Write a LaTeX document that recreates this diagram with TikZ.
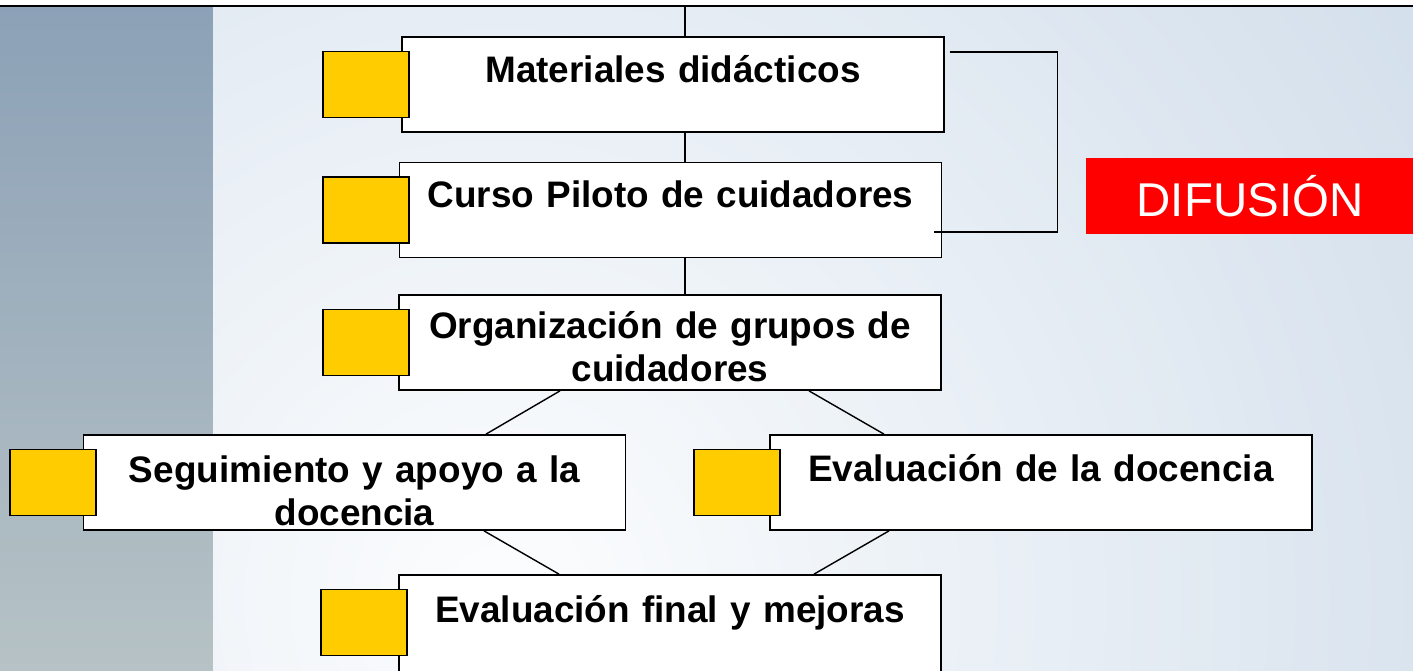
\documentclass[tikz,border=0pt]{standalone}
\usepackage{fontspec}
\setmainfont{Liberation Sans}
\usetikzlibrary{positioning}
\definecolor{tagyellow}{HTML}{FFCC00}
\definecolor{stripblue}{HTML}{8CA1B7}
\definecolor{stripgray}{HTML}{B6C2C5}
\definecolor{bgblue}{HTML}{AEC4DB}
\definecolor{bglight}{HTML}{FCFDFE}
\definecolor{difred}{HTML}{FF0000}
\tikzset{
    task-box/.style = {draw, fill=white, line width=1pt, rectangle, minimum width=10.84cm, minimum height=1.9cm, inner sep=0pt},
    task-text/.style = {anchor=base, text width=10.4cm, align=center, inner sep=0pt, font=\fontsize{21}{24.4}\selectfont\bfseries},
    task-tag/.style = {draw, fill=tagyellow, line width=1pt, rectangle, minimum width=1.72cm, minimum height=1.32cm, inner sep=0pt},
    link/.style = {line width=0.8pt},
}

\begin{document}
\begin{tikzpicture}[x=0.02cm, y=-0.02cm]
\useasboundingbox (0,0) rectangle (1413,670);
\clip (0,0) rectangle (1413,670);
% background
\fill[white] (0,0) rectangle (1413,670);
\shade[top color=stripblue, bottom color=stripgray] (0,6) rectangle (213,670);
\begin{scope}
    \clip (213,6) rectangle (1413,670);
    \shade[inner color=bglight, outer color=bgblue] (-1600,-1500) rectangle (2600,2700);
\end{scope}
\draw[line width=1.2pt] (0,6) -- (1413,6);

% boxes
\node[task-box] (mat) at (673,84.5) {};
\node[task-box] (cur) at (670.5,210) {};
\node[task-box] (org) at (670,342.5) {};
\node[task-box] (seg) at (354.5,482.5) {};
\node[task-box] (evd) at (1041,482.5) {};
\node[task-box, minimum height=2cm] (fin) at (670,625) {};

\node[task-text] (mat-t) at ([shift={(0,46)}]mat.north) {Materiales didácticos};
\node[task-text] (cur-t) at ([shift={(0,46)}]cur.north) {Curso Piloto de cuidadores};
\node[task-text] (org-t) at ([shift={(0,44)}]org.north) {Organización de grupos de\\cuidadores};
\node[task-text] (seg-t) at ([shift={(0,48)}]seg.north) {Seguimiento y apoyo a la\\docencia};
\node[task-text] (evd-t) at ([shift={(0,47)}]evd.north) {Evaluación de la docencia};
\node[task-text] (fin-t) at ([shift={(0,48)}]fin.north) {Evaluación final y mejoras};

% yellow tags
\node[task-tag, left=-0.18cm of mat.west] (mat-tag) {};
\node[task-tag, left=-0.22cm of cur.west] (cur-tag) {};
\node[task-tag, left=-0.24cm of org.west] (org-tag) {};
\node[task-tag, left=-0.28cm of seg.west] (seg-tag) {};
\node[task-tag, left=-0.24cm of evd.west] (evd-tag) {};
\node[task-tag, left=-0.2cm of fin.west, yshift=0.05cm] (fin-tag) {};

% connectors
\coordinate (top) at (685,6);
\draw[link] (top) -- (top |- mat.north);
\draw[link] (top |- mat.south) -- (top |- cur.north);
\draw[link] (top |- cur.south) -- (top |- org.north);
\draw[link] ([shift={(-110,0)}]org.south) -- ([shift={(131.5,0)}]seg.north);
\draw[link] ([shift={(139,0)}]org.south) -- ([shift={(-157,0)}]evd.north);
\draw[link] ([shift={(129.5,0)}]seg.south) -- ([shift={(-111,0)}]fin.north);
\draw[link] ([shift={(-152,0)}]evd.south) -- ([shift={(144,0)}]fin.north);
\draw[link] ([shift={(5,-32.5)}]mat.east) -| ([shift={(115,22)}]cur.east) -- ([shift={(-8,22)}]cur.east);

% difusion
\node[fill=difred, text=white, minimum width=6.56cm, minimum height=1.52cm, inner sep=0pt,
      font=\fontsize{27}{32}\selectfont] (dif) at (1250,196) {DIFUSIÓN};
\end{tikzpicture}
\end{document}
